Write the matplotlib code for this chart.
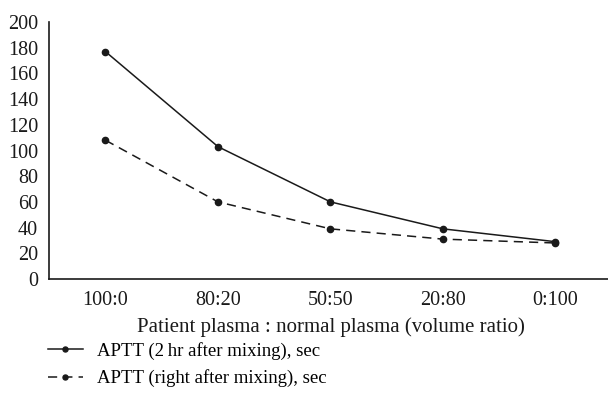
import matplotlib
matplotlib.use("Agg")
import matplotlib.pyplot as plt

# data
ratios = ["100:0", "80:20", "50:50", "20:80", "0:100"]
aptt_2hr = [177, 103, 60, 39, 29]
aptt_right = [108, 60, 39, 31, 28]

plt.rcParams['font.family'] = ['Liberation Serif', 'DejaVu Serif']

fig = plt.figure(figsize=(6.08, 4.09), dpi=100)
ax = fig.add_axes([0.081, 0.318, 0.925, 0.628])

x = range(len(ratios))
l1, = ax.plot(x, aptt_2hr, color='#1a1a1a', lw=1.1, marker='o', ms=4.5,
              label="APTT (2\u2009hr after mixing), sec")
l2, = ax.plot(x, aptt_right, color='#1a1a1a', lw=1.1, ls=(0, (6, 4)), marker='o', ms=4.5,
              label="APTT (right after mixing), sec")

ax.set_xlim(-0.5, 4.5)
ax.set_ylim(0, 200)
ax.set_yticks(range(0, 201, 20))
ax.set_xticks(list(x))
ax.set_xticklabels(ratios)
ax.tick_params(length=0, labelsize=14.5, colors='#1a1a1a')
ax.tick_params(axis='x', pad=9)
ax.tick_params(axis='y', pad=8)
for s in ['top', 'right']:
    ax.spines[s].set_visible(False)
for s in ['left', 'bottom']:
    ax.spines[s].set_linewidth(1.2)
    ax.spines[s].set_color('#1a1a1a')

ax.set_xlabel("Patient plasma : normal plasma (volume ratio)", fontsize=15, color='#1a1a1a', labelpad=5)

# legend below the plot, dashes shortened so the handle reads "- • - -"
fig.legend(handles=[l1, l2], loc='upper left', bbox_to_anchor=(0.079, 0.164),
           frameon=False, fontsize=13.5, handlelength=1.85, handletextpad=0.75,
           labelspacing=0.5, borderpad=0, borderaxespad=0, markerscale=0.8)

fig.savefig("out.png", dpi=100)
